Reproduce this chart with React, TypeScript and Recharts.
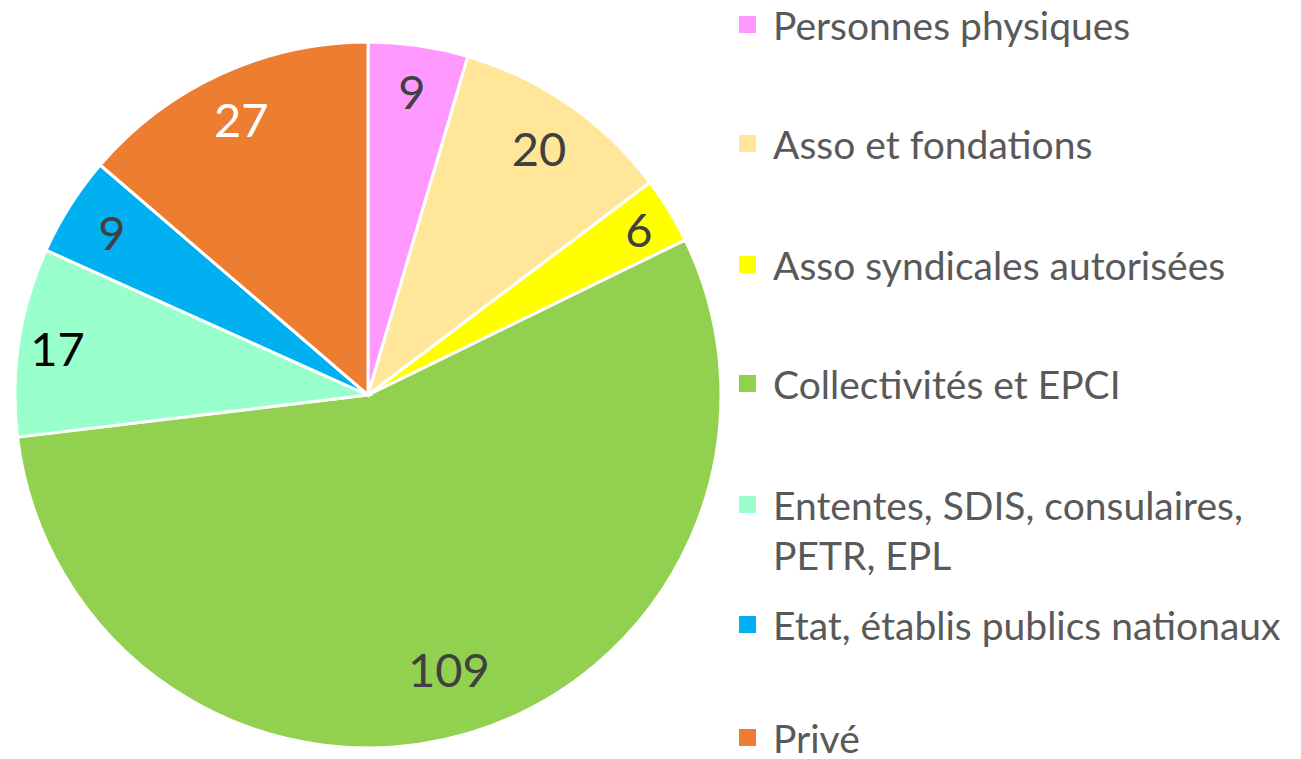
import { PieChart, Pie, Cell, Legend } from "recharts";

const categories = [
  "Personnes physiques",
  "Asso et fondations",
  "Asso syndicales autorisées",
  "Collectivités et EPCI",
  "Ententes, SDIS, consulaires, PETR, EPL",
  "Etat, établis publics nationaux",
  "Privé",
];
const values = [9, 20, 6, 109, 17, 9, 27];
const colors = ["#ff99ff", "#ffe699", "#ffff00", "#92d050", "#99ffcc", "#00b0f0", "#ed7d31"];
const labelColors = ["#404040", "#404040", "#404040", "#404040", "#000000", "#404040", "#ffffff"];
// label distance from centre, as a share of the radius
const labelRadius = [0.87, 0.85, 0.9, 0.81, 0.89, 0.86, 0.86];

const data = categories.map((name, i) => ({ name, value: values[i] }));

const FONT = "Lato, 'Open Sans', sans-serif";
const RAD = Math.PI / 180;

function renderLabel(props: any) {
  const { cx, cy, midAngle, outerRadius, index, value } = props;
  const r = outerRadius * labelRadius[index];
  const x = cx + r * Math.cos(-midAngle * RAD);
  const y = cy + r * Math.sin(-midAngle * RAD);
  return (
    <text
      x={x}
      y={y}
      fill={labelColors[index]}
      textAnchor="middle"
      dominantBaseline="central"
      fontSize={47}
      fontFamily={FONT}
    >
      {value}
    </text>
  );
}

const legendRows = [
  { idx: 0, y: 25, lines: ["Personnes physiques"] },
  { idx: 1, y: 144, lines: ["Asso et fondations"] },
  { idx: 2, y: 265, lines: ["Asso syndicales autorisées"] },
  { idx: 3, y: 384, lines: ["Collectivités et EPCI"] },
  { idx: 4, y: 505, lines: ["Ententes, SDIS, consulaires,", "PETR, EPL"] },
  { idx: 5, y: 625, lines: ["Etat, établis publics nationaux"] },
  { idx: 6, y: 738, lines: ["Privé"] },
];

function LegendContent() {
  return (
    <div style={{ position: "relative", width: 560, height: 750 }}>
      {legendRows.map((row) => (
        <div key={row.idx}>
          <div
            style={{
              position: "absolute",
              left: 0,
              top: row.y - 8 - 9,
              width: 17,
              height: 17,
              background: colors[row.idx],
            }}
          />
          {row.lines.map((line, j) => (
            <div
              key={j}
              style={{
                position: "absolute",
                left: 34,
                top: row.y - 8 - 18 + j * 50,
                height: 36,
                lineHeight: "36px",
                fontSize: 39,
                fontFamily: FONT,
                color: "#595959",
                whiteSpace: "nowrap",
              }}
            >
              {line}
            </div>
          ))}
        </div>
      ))}
    </div>
  );
}

export default function App() {
  return (
    <PieChart width={1293} height={751} margin={{ top: 0, right: 0, bottom: 0, left: 0 }}>
      <Pie
        data={data}
        dataKey="value"
        nameKey="name"
        cx={360}
        cy={387}
        outerRadius={353}
        startAngle={90}
        endAngle={-270}
        stroke="#ffffff"
        strokeWidth={3}
        label={renderLabel}
        labelLine={false}
        isAnimationActive={false}
      >
        {data.map((d, i) => (
          <Cell key={d.name} fill={colors[i]} />
        ))}
      </Pie>
      <Legend
        layout="vertical"
        align="right"
        verticalAlign="top"
        wrapperStyle={{ left: 731, top: 0, width: 560 }}
        content={<LegendContent />}
      />
    </PieChart>
  );
}
